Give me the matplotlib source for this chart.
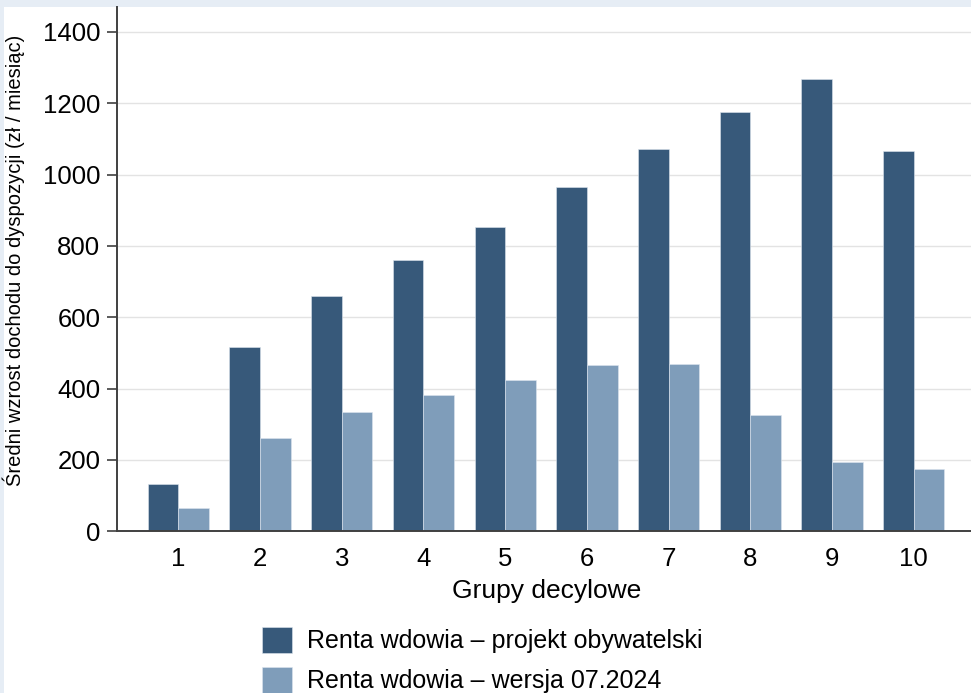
import matplotlib
matplotlib.use("Agg")
import matplotlib.pyplot as plt
from matplotlib.patches import Rectangle
import numpy as np

# Dane
grupy = ["1", "2", "3", "4", "5", "6", "7", "8", "9", "10"]
projekt_obywatelski = [133, 516, 660, 761, 854, 964, 1071, 1176, 1267, 1067]
wersja_07_2024 = [66, 262, 335, 381, 424, 465, 469, 325, 194, 175]
etykiety = ["Renta wdowia – projekt obywatelski", "Renta wdowia – wersja 07.2024"]
kolory = ["#37597a", "#7f9dba"]

plt.rcParams["font.family"] = ["Liberation Sans", "DejaVu Sans"]

fig = plt.figure(figsize=(9.71, 6.93), dpi=100)
fig.patch.set_facecolor("#e6edf5")
# biały panel pod wykresem
fig.add_artist(Rectangle((4 / 971, 0), 1, 1 - 7 / 693, transform=fig.transFigure,
                         facecolor="white", edgecolor="none", zorder=0))

ax = fig.add_axes([117 / 971, 0.2333, 1 - 117 / 971, 0.9899 - 0.2333])
ax.set_facecolor("white")

x = np.arange(1, len(grupy) + 1)
szer = 0.375
ax.bar(x - szer / 2, projekt_obywatelski, szer, color=kolory[0], edgecolor="#dde5ee",
       linewidth=0.4, label=etykiety[0], zorder=3)
ax.bar(x + szer / 2, wersja_07_2024, szer, color=kolory[1], edgecolor="#dde5ee",
       linewidth=0.4, label=etykiety[1], zorder=3)

ax.set_xlim(0.25, 10.70)
ax.set_ylim(0, 1470)
ax.set_xticks(x)
ax.set_xticklabels(grupy)
ax.set_yticks(range(0, 1401, 200))
ax.yaxis.grid(True, color="#e3e3e3", linewidth=1.0, zorder=0)
ax.set_axisbelow(True)

for s in ["top", "right"]:
    ax.spines[s].set_visible(False)
for s in ["left", "bottom"]:
    ax.spines[s].set_color("#404040")
    ax.spines[s].set_linewidth(1.4)
    ax.spines[s].set_zorder(4)

ax.tick_params(axis="y", length=7, width=1.2, color="#404040", pad=5, labelsize=18.5)
ax.tick_params(axis="x", length=0, pad=11, labelsize=18.5)

ax.set_xlabel("Grupy decylowe", fontsize=19)
ax.xaxis.set_label_coords(0.5035, -0.09)
ax.set_ylabel("Średni wzrost dochodu do dyspozycji (zł / miesiąc)", fontsize=14.5)
ax.yaxis.set_label_coords(-0.108, 0.517)

fig.legend(loc="upper left", bbox_to_anchor=(262 / 971, 1 - 627 / 693), frameon=False,
           fontsize=18, handlelength=1.2, handleheight=1.2, handletextpad=0.6,
           labelspacing=0.55, borderpad=0, borderaxespad=0)

fig.savefig("out.png", dpi=100, facecolor=fig.get_facecolor())
